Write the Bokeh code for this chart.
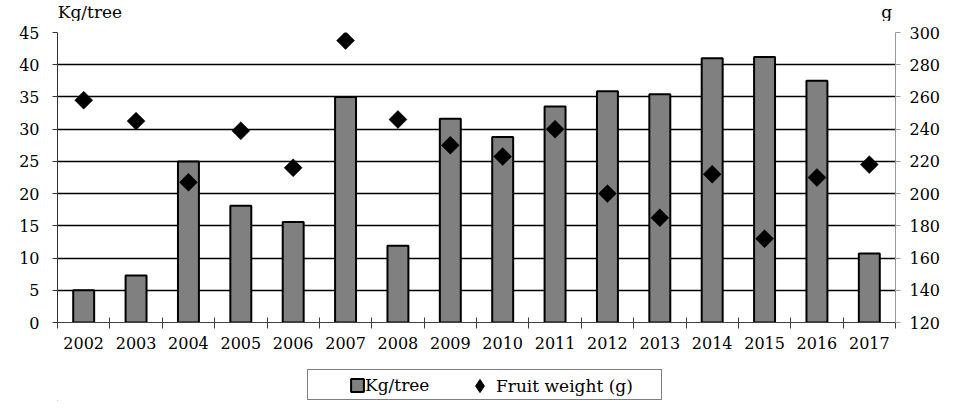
import numpy as np
from bokeh.plotting import figure
from bokeh.layouts import column
from bokeh.models import (Range1d, LinearAxis, FixedTicker, Legend, LegendItem,
                          Label, ColumnDataSource)
from bokeh.core.properties import value
from bokeh.embed import file_html
from bokeh.resources import INLINE

# ---- data ----
years = ["2002", "2003", "2004", "2005", "2006", "2007", "2008", "2009",
         "2010", "2011", "2012", "2013", "2014", "2015", "2016", "2017"]
kg_per_tree = [5.0, 7.3, 25.0, 18.1, 15.6, 35.0, 11.9, 31.6,
               28.8, 33.5, 35.9, 35.4, 41.0, 41.2, 37.5, 10.7]
fruit_weight = [258, 245, 207, 239, 216, 295, 246, 230,
                223, 240, 200, 185, 212, 172, 210, 218]
left_ticks = [0, 5, 10, 15, 20, 25, 30, 35, 40, 45]
right_ticks = [120, 140, 160, 180, 200, 220, 240, 260, 280, 300]
left_title = "Kg/tree"
right_title = "g"
series_names = ["Kg/tree", "Fruit weight (g)"]

FONT = "DejaVu Serif"
TICK_SIZE = "16px"
W = 943
TOP_H = 21
n = len(years)
x_pos = [i + 0.5 for i in range(n)]
src = ColumnDataSource(dict(x=x_pos, kg=kg_per_tree, fw=fruit_weight, year=years))


def bare(height):
    f = figure(width=W, height=height, output_backend="svg", toolbar_location=None,
               x_range=Range1d(0, W), y_range=Range1d(0, height), min_border=0,
               x_axis_location=None, y_axis_location=None, title=None)
    f.outline_line_color = None
    f.xgrid.visible = False
    f.ygrid.visible = False
    return f


# ---------- top strip: axis titles ----------
top = bare(TOP_H)
top.add_layout(Label(x=0.3, y=TOP_H - 1, text=left_title,
                     text_font=FONT, text_font_size="17px", text_color="black",
                     text_align="left", text_baseline="top"))
top.add_layout(Label(x=927, y=TOP_H - 1, text=right_title,
                     text_font=FONT, text_font_size="17px", text_color="black",
                     text_align="left", text_baseline="top"))

# ---------- main chart ----------
p = figure(width=W, height=337, output_backend="svg", toolbar_location=None,
           x_range=Range1d(0, n), y_range=Range1d(left_ticks[0], left_ticks[-1]),
           min_border_left=57, min_border_right=45, min_border_top=11,
           min_border_bottom=36, title=None)
p.outline_line_color = None
p.extra_y_ranges = {"g": Range1d(right_ticks[0], right_ticks[-1])}

p.xgrid.visible = False
p.ygrid.ticker = FixedTicker(ticks=left_ticks)
p.ygrid.grid_line_color = "black"
p.ygrid.grid_line_width = 1.5

bars = p.vbar(x="x", top="kg", width=0.4, source=src, fill_color="#808080",
              line_color="black", line_width=2)
pts = p.scatter(x="x", y="fw", source=src, y_range_name="g", marker="square",
                angle=np.pi / 4, size=12.7, fill_color="black", line_color="black",
                line_width=0.5)

ya = p.yaxis[0]
ya.ticker = FixedTicker(ticks=left_ticks)
ya.axis_line_color = "#333333"
ya.major_tick_line_color = "#333333"
ya.major_tick_in = 0
ya.major_tick_out = 5
ya.minor_tick_line_color = None
ya.major_label_standoff = 13
ya.major_label_text_font = FONT
ya.major_label_text_font_size = TICK_SIZE
ya.major_label_text_color = "black"

yr = LinearAxis(y_range_name="g", ticker=FixedTicker(ticks=right_ticks))
yr.axis_line_color = "#999999"
yr.major_tick_line_color = "#999999"
yr.major_tick_in = 0
yr.major_tick_out = 5
yr.minor_tick_line_color = None
yr.major_label_standoff = 9
yr.major_label_text_font = FONT
yr.major_label_text_font_size = TICK_SIZE
yr.major_label_text_color = "black"
p.add_layout(yr, "right")

xa = p.xaxis[0]
xa.ticker = FixedTicker(ticks=x_pos, minor_ticks=list(range(n + 1)))
xa.major_label_overrides = {xp: yr_ for xp, yr_ in zip(x_pos, years)}
xa.major_tick_in = 0
xa.major_tick_out = 6
xa.major_tick_line_color = None
xa.minor_tick_in = 5
xa.minor_tick_out = 6
xa.minor_tick_line_color = "#404040"
xa.axis_line_color = "#404040"
xa.major_label_standoff = 8
xa.major_label_text_font = FONT
xa.major_label_text_font_size = TICK_SIZE
xa.major_label_text_color = "black"

# ---------- bottom strip: legend ----------
bot = bare(43)
blank = bot.scatter(x=[-100], y=[-100], fill_alpha=0, line_alpha=0)
key_bar = bot.vbar(x=[-100], top=[-100], width=1, fill_color="#808080",
                   line_color="black", line_width=2)
key_dia = bot.scatter(x=[-100], y=[-100], marker="diamond", fill_color="black",
                      line_color="black", line_width=1)

box_leg = Legend(items=[LegendItem(label=value(" "), renderers=[blank])],
                 location=(250, 1), orientation="horizontal", padding=0, margin=0,
                 glyph_width=1, glyph_height=1, label_standoff=0, label_width=352,
                 label_height=29, label_text_font_size="6px",
                 border_line_color="black", border_line_width=1,
                 background_fill_alpha=0)
kg_leg = Legend(items=[LegendItem(label=value(series_names[0]), renderers=[key_bar])],
                location=(292, 5.6), orientation="horizontal", padding=0, margin=0,
                glyph_width=16, glyph_height=16, label_standoff=0, label_width=0,
                label_height=16, label_text_font=FONT, label_text_font_size="17px",
                label_text_color="black", border_line_alpha=0, background_fill_alpha=0)
fw_leg = Legend(items=[LegendItem(label=value(series_names[1]), renderers=[key_dia])],
                location=(406, -1), orientation="horizontal", padding=0, margin=0,
                glyph_width=33, glyph_height=33, label_standoff=-10, label_width=0,
                label_height=16, label_text_font=FONT, label_text_font_size="17px",
                label_text_color="black", border_line_alpha=0, background_fill_alpha=0)
bot.add_layout(box_leg, "center")
bot.add_layout(kg_leg, "center")
bot.add_layout(fw_leg, "center")

layout = column(top, p, bot, spacing=0)
open("out.html", "w").write(file_html(layout, INLINE))
